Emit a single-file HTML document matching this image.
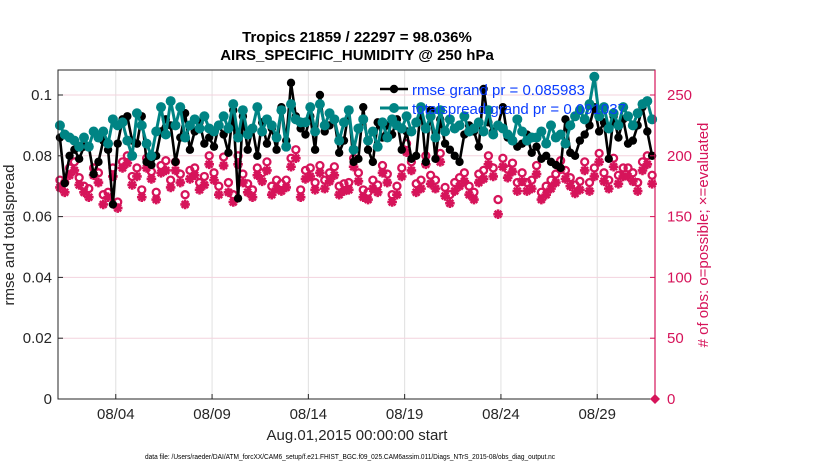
<!DOCTYPE html>
<html><head><meta charset="utf-8"><style>
body{margin:0;background:#fff;font-family:"Liberation Sans",Arial,sans-serif}
</style></head><body>
<svg id="chart" width="830" height="470" xmlns="http://www.w3.org/2000/svg" font-family="Liberation Sans, Arial, sans-serif">
<rect width="830" height="470" fill="#fff"/>
<g id="grid"></g>
<g id="marks"></g>
<g id="axes"></g>
</svg>
<script>
const xTickLabels=["08/04","08/09","08/14","08/19","08/24","08/29"];
const xTickDays=[3,8,13,18,23,28];
const yTicks=[0,0.02,0.04,0.06,0.08,0.1];
const y2Ticks=[0,50,100,150,200,250];
const rmse=[86,71,80,82,79,83,83,74,78,85,82,64,84,92,93,85,84,93,78,77,80,88,92,90,78,86,94,82,88,91,84,86,
83,90,87,81,95,66,93,82,89,80,91,84,89,82,96,85,104,93,89,87,93,82,100,88,90,92,81,85,95,78,79,96,
82,78,91,86,90,87,92,82,88,79,80,96,78,95,79,92,84,82,80,78,87,90,88,83,102,91,88,90,96,86,85,83,
84,87,81,83,79,80,78,77,76,92,81,80,85,87,90,96,88,91,79,93,86,92,84,85,90,96,88,80].map(v=>v/1000);
const spread=[90,87,86,85,83,86,83,88,86,88,84,92,90,91,85,80,94,90,84,80,88,96,87,98,90,96,86,90,92,89,93,89,
88,90,93,89,97,86,95,87,89,96,88,92,90,86,95,83,97,92,91,91,96,88,97,90,94,92,85,91,95,82,89,92,
85,88,83,91,86,92,90,89,93,88,91,96,89,93,86,95,88,92,89,90,93,88,89,91,88,95,87,90,89,87,85,92,
88,85,86,86,88,84,90,86,87,84,90,93,95,92,97,106,93,96,89,94,90,96,93,90,94,97,98,92].map(v=>v/1000);
const possible=[180,178,190,195,182,175,173,190,186,168,170,190,162,195,200,183,190,172,198,187,170,192,196,180,195,185,168,188,190,178,183,200,
186,175,199,178,168,200,185,177,172,190,186,195,175,180,177,180,198,205,172,188,190,178,192,180,186,191,175,177,178,198,186,172,
170,180,176,192,185,168,175,190,210,195,177,180,200,184,180,202,174,168,178,182,186,175,170,185,188,200,190,164,198,189,194,178,
186,178,180,192,170,175,180,185,196,188,182,176,179,195,178,190,202,186,180,198,184,190,190,186,178,195,200,184];
const evaluated=[174,170,184,188,176,170,166,184,178,160,166,183,157,190,194,176,183,166,190,181,164,186,188,174,188,178,160,181,184,172,176,193,
180,168,192,170,162,193,178,170,166,184,179,188,168,173,171,174,191,198,166,181,183,172,186,173,179,184,168,171,172,191,179,166,
164,173,170,186,178,162,168,183,203,188,170,173,193,177,173,195,167,161,171,175,179,168,164,178,181,193,183,152,191,182,187,171,
179,171,173,185,164,168,173,178,189,181,175,169,172,188,171,183,195,179,173,191,177,183,183,179,171,188,193,177];

const X0=58,X1=655,Y0=399,Y1=70,DAYS=31;
const xs=d=>X0+d/DAYS*(X1-X0);
const ys=v=>Y0-v*3040;
const ys2=c=>Y0-c*304/250;
const NS="http://www.w3.org/2000/svg";
function mk(tag,attrs,parent,text){const e=document.createElementNS(NS,tag);for(const k in attrs)e.setAttribute(k,attrs[k]);if(text!==undefined)e.textContent=text;parent.appendChild(e);return e;}
const grid=document.getElementById('grid'),marks=document.getElementById('marks'),axes=document.getElementById('axes');
const RED="#d6145a",TEAL="#008484";
xTickDays.forEach(d=>{const l=mk('line',{x1:xs(d),x2:xs(d),y1:Y1,y2:Y0,stroke:'#e0e0e0','stroke-width':1},grid);

});
y2Ticks.forEach(c=>{const l=mk('line',{x1:X0,x2:X1,y1:ys2(c),y2:ys2(c),stroke:'#f3d3de','stroke-width':1},grid);

});
const tOf=i=>i/4+0.1;
possible.forEach((c,i)=>{const e=mk('circle',{cx:xs(tOf(i)),cy:ys2(c),r:3.5,fill:'none',stroke:RED,'stroke-width':2.3},marks);

});
evaluated.forEach((c,i)=>{const x=xs(tOf(i)),y=ys2(c);let d='';for(let a=0;a<4;a++){const an=a*Math.PI/4;d+=`M${x-4.8*Math.cos(an)},${y-4.8*Math.sin(an)}L${x+4.8*Math.cos(an)},${y+4.8*Math.sin(an)}`;}
const e=mk('path',{d:d,stroke:RED,'stroke-width':2.6,fill:'none'},marks);

});
function series(arr,color,w,r,name){const p=arr.map((v,i)=>`${xs(tOf(i)).toFixed(1)},${ys(v).toFixed(1)}`).join(' ');
const pl=mk('polyline',{points:p,fill:'none',stroke:color,'stroke-width':w,'stroke-linejoin':'round'},marks);


arr.forEach((v,i)=>{const c=mk('circle',{cx:xs(tOf(i)),cy:ys(v),r:r,fill:color},marks);

});}
series(rmse,'#000',2.6,4.2,'rmse');
series(spread,TEAL,3,5,'totalspread');
mk('rect',{x:X0,y:Y1,width:X1-X0,height:Y0-Y1,fill:'none',stroke:'#262626','stroke-width':1},axes);
mk('line',{x1:X1,x2:X1,y1:Y1,y2:Y0,stroke:RED,'stroke-width':1.2},axes);
yTicks.forEach(v=>{mk('line',{x1:X0,x2:X0+5,y1:ys(v),y2:ys(v),stroke:'#262626'},axes);
const t=mk('text',{x:X0-6,y:ys(v)+5,'text-anchor':'end','font-size':15,fill:'#262626'},axes,v===0?'0':String(+v.toFixed(2)));

});
y2Ticks.forEach(c=>{mk('line',{x1:X1-5,x2:X1,y1:ys2(c),y2:ys2(c),stroke:RED},axes);
const t=mk('text',{x:X1+12,y:ys2(c)+5,'font-size':15,fill:RED},axes,String(c));

});
xTickDays.forEach((d,i)=>{mk('line',{x1:xs(d),x2:xs(d),y1:Y0,y2:Y0-5,stroke:'#262626'},axes);
const t=mk('text',{x:xs(d),y:Y0+20,'text-anchor':'middle','font-size':15,fill:'#262626'},axes,xTickLabels[i]);

});
mk('path',{d:`M${X1-5},${Y0}L${X1},${Y0-5}L${X1+5},${Y0}L${X1},${Y0+5}Z`,fill:RED},axes);
</script>
<svg style="position:absolute;left:0;top:0" width="830" height="470" xmlns="http://www.w3.org/2000/svg" font-family="Liberation Sans, Arial, sans-serif">
<text x="357" y="42" text-anchor="middle" font-size="15" font-weight="bold" fill="#000">Tropics 21859 / 22297 = 98.036%</text>
<text x="357" y="60" text-anchor="middle" font-size="15" font-weight="bold" fill="#000">AIRS_SPECIFIC_HUMIDITY @ 250 hPa</text>
<text transform="translate(14,235) rotate(-90)" text-anchor="middle" font-size="15" fill="#262626">rmse and totalspread</text>
<text transform="translate(708,235) rotate(-90)" text-anchor="middle" font-size="15" fill="#d6145a"># of obs: o=possible; ×=evaluated</text>
<text x="357" y="440" text-anchor="middle" font-size="15" fill="#262626">Aug.01,2015 00:00:00 start</text>
<text x="145" y="459" font-size="7" textLength="410" lengthAdjust="spacingAndGlyphs" fill="#000">data file: /Users/raeder/DAI/ATM_forcXX/CAM6_setup/f.e21.FHIST_BGC.f09_025.CAM6assim.011/Diags_NTrS_2015-08/obs_diag_output.nc</text>
<g>
<line x1="380" y1="89" x2="408" y2="89" stroke="#000" stroke-width="2.6"/><circle cx="394" cy="89" r="4.2" fill="#000"/>
<text x="412" y="95" font-size="15" fill="#0a3cff">rmse grand pr = 0.085983</text>
<line x1="380" y1="108" x2="408" y2="108" stroke="#008484" stroke-width="3"/><circle cx="394" cy="108" r="5" fill="#008484"/>
<text x="412" y="114" font-size="15" fill="#0a3cff">totalspread grand pr = 0.091037</text>
</g>
</svg>
</body></html>
